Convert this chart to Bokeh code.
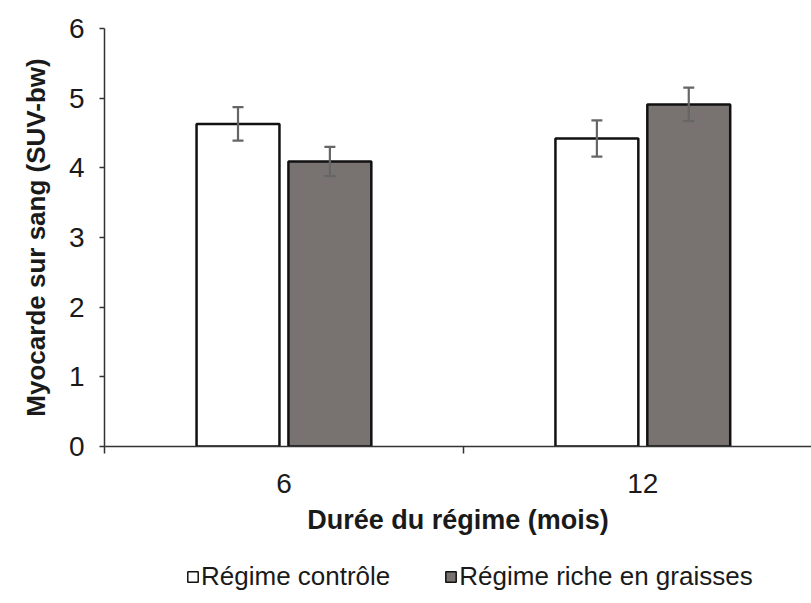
import numpy as np
from bokeh.plotting import figure
from bokeh.layouts import column
from bokeh.models import (ColumnDataSource, Whisker, TeeHead, FixedTicker, Range1d,
                          Legend, LegendItem)
from bokeh.embed import file_html
from bokeh.resources import INLINE

# ---- data ----
durations = ["6", "12"]
controle = [4.63, 4.42]
controle_err = [0.24, 0.26]
riche = [4.09, 4.91]
riche_err = [0.21, 0.24]
y_ticks = [0, 1, 2, 3, 4, 5, 6]
series_names = ["Régime contrôle", "Régime riche en graisses"]

FONT = "Liberation Sans"
WHITE_FILL = "white"
GRAY_FILL = "#787371"
EDGE = "#111111"
centers = np.arange(len(durations)) + 0.5
boundaries = list(np.arange(len(durations) + 1).astype(float))
offset = 0.128
bar_w = 0.231

src_c = ColumnDataSource(dict(
    x=centers - offset, top=controle,
    upper=np.array(controle) + np.array(controle_err),
    lower=np.array(controle) - np.array(controle_err)))
src_r = ColumnDataSource(dict(
    x=centers + offset, top=riche,
    upper=np.array(riche) + np.array(riche_err),
    lower=np.array(riche) - np.array(riche_err)))

p = figure(width=811, height=558, output_backend="svg", toolbar_location=None,
           x_range=Range1d(0, 1.97), y_range=Range1d(0, 6),
           min_border_left=104, min_border_right=0, min_border_top=28,
           min_border_bottom=112)
p.outline_line_color = None
p.xgrid.visible = False
p.ygrid.visible = False

p.vbar(x="x", top="top", width=bar_w, bottom=0, source=src_c,
       fill_color=WHITE_FILL, line_color=EDGE, line_width=2.5)
p.vbar(x="x", top="top", width=bar_w, bottom=0, source=src_r,
       fill_color=GRAY_FILL, line_color=EDGE, line_width=2.5)

for src in (src_c, src_r):
    w = Whisker(base="x", upper="upper", lower="lower", source=src,
                line_color="#666666", line_width=2.2,
                upper_head=TeeHead(size=11, line_color="#666666", line_width=2.2),
                lower_head=TeeHead(size=11, line_color="#666666", line_width=2.2),
                level="overlay")
    p.add_layout(w)

# y axis
ya = p.yaxis[0]
ya.ticker = FixedTicker(ticks=y_ticks)
ya.major_tick_out = 5
ya.major_tick_in = 0
ya.minor_tick_line_color = None
ya.axis_line_color = "#333333"
ya.axis_line_width = 1.5
ya.major_tick_line_color = "#333333"
ya.major_tick_line_width = 1.5
ya.major_label_text_font = FONT
ya.major_label_text_font_size = "28px"
ya.major_label_text_color = "#1a1a1a"
ya.major_label_standoff = 15
ya.axis_label = "Myocarde sur sang (SUV-bw)"
ya.axis_label_text_font = FONT
ya.axis_label_text_font_style = "bold"
ya.axis_label_text_font_size = "26px"
ya.axis_label_text_color = "#1a1a1a"
ya.axis_label_standoff = 15

# x axis
xa = p.xaxis[0]
xa.ticker = FixedTicker(ticks=list(centers), minor_ticks=boundaries)
xa.major_label_overrides = {float(c): d for c, d in zip(centers, durations)}
xa.major_tick_line_color = None
xa.major_tick_out = 0
xa.major_tick_in = 0
xa.minor_tick_out = 7
xa.minor_tick_in = 0
xa.minor_tick_line_color = "#333333"
xa.minor_tick_line_width = 1.5
xa.axis_line_color = "#333333"
xa.axis_line_width = 1.5
xa.major_label_text_font = FONT
xa.major_label_text_font_size = "28px"
xa.major_label_text_color = "#1a1a1a"
xa.major_label_standoff = 20
xa.axis_label = "Durée du régime (mois)"
xa.axis_label_text_font = FONT
xa.axis_label_text_font_style = "bold"
xa.axis_label_text_font_size = "27px"
xa.axis_label_text_color = "#1a1a1a"
xa.axis_label_standoff = 9

# legend strip (hidden proxy renderers on the same data sources)
lg = figure(width=811, height=40, output_backend="svg", toolbar_location=None,
            x_range=Range1d(0, 1.97), y_range=Range1d(0, 6),
            x_axis_location=None, y_axis_location=None,
            min_border=0)
lg.outline_line_color = None
lg.xgrid.visible = False
lg.ygrid.visible = False
l1 = lg.vbar(x="x", top="top", width=bar_w, bottom=0, source=src_c,
             fill_color=WHITE_FILL, line_color=EDGE, line_width=1.5, visible=False)
l2 = lg.vbar(x="x", top="top", width=bar_w, bottom=0, source=src_r,
             fill_color=GRAY_FILL, line_color=EDGE, line_width=1.5, visible=False)
legend = Legend(items=[LegendItem(label=series_names[0], renderers=[l1]),
                       LegendItem(label=series_names[1], renderers=[l2])],
                orientation="horizontal", location=(82, 6),
                border_line_color=None, background_fill_alpha=0,
                inactive_fill_alpha=0,
                padding=0, margin=0, spacing=54, label_standoff=2,
                glyph_width=13, glyph_height=13,
                label_text_font=FONT, label_text_font_size="26px",
                label_text_color="#1a1a1a")
lg.add_layout(legend, "center")

layout = column(p, lg, spacing=0)
open("out.html", "w").write(file_html(layout, INLINE))
